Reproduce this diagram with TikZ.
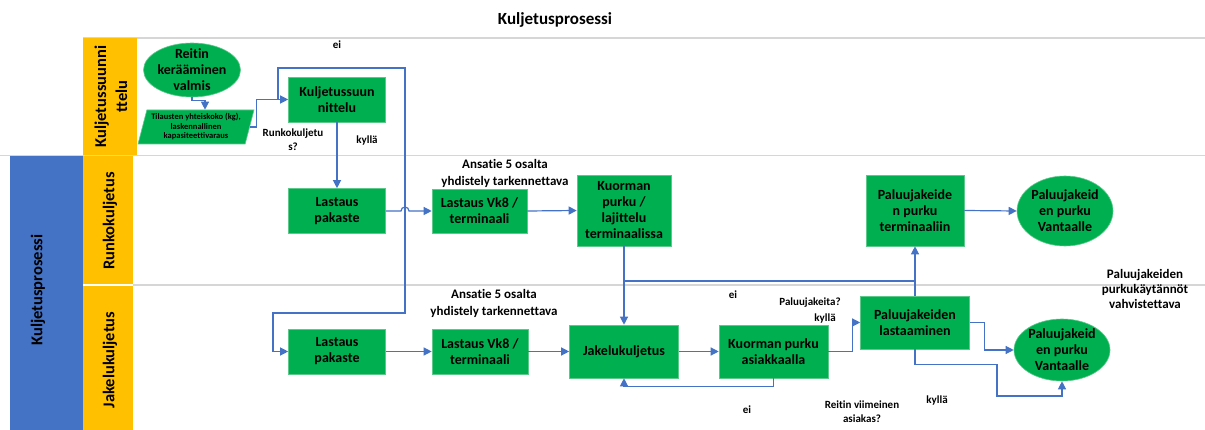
\documentclass[tikz,border=0pt]{standalone}
\usepackage{fontspec}
\setmainfont{Carlito}[Ligatures={NoCommon}]
\usetikzlibrary{arrows.meta,shapes.geometric}

\definecolor{procgreen}{HTML}{00B050}
\definecolor{procedge}{HTML}{5CC98A}
\definecolor{flowblue}{HTML}{4472C4}
\definecolor{headyellow}{HTML}{FFC000}
\definecolor{poolblue}{HTML}{4472C4}
\definecolor{laneline}{HTML}{D6D6D6}

\begin{document}
\begin{tikzpicture}[x=1pt,y=-1pt,
  proc/.style={draw=procedge, line width=0.6pt, fill=procgreen, align=center,
    inner sep=1pt, font=\fontsize{14}{16}\selectfont\bfseries},
  termshape/.style={ellipse, draw=procedge, line width=0.6pt, fill=procgreen, inner sep=0pt},
  datashape/.style={trapezium, trapezium left angle=74, trapezium right angle=106,
    trapezium stretches=true, draw=procedge, line width=0.6pt, fill=procgreen, inner sep=1pt,
    align=center, font=\fontsize{8.5}{9.5}\selectfont\bfseries},
  intext/.style={align=center, inner sep=0pt, font=\fontsize{14}{16}\selectfont\bfseries},
  lbl/.style={align=center, inner sep=0pt, font=\fontsize{11}{14}\selectfont\bfseries},
  note/.style={align=center, inner sep=0pt, font=\fontsize{13}{16.5}\selectfont\bfseries},
  lanelbl/.style={align=center, inner sep=0pt, rotate=90, font=\fontsize{16.5}{21}\selectfont\bfseries},
  wire/.style={draw=flowblue, line width=1.2pt},
  flow/.style={wire, -{Triangle[length=8pt,width=8pt]}},
  grid/.style={draw=laneline, line width=1.5pt}
]
\useasboundingbox (0,0) rectangle (1205,430);

% title
\node[font=\fontsize{17}{20}\selectfont\bfseries] (title) at (555,20) {Kuljetusprosessi};

% swimlane frame
\draw[grid] (83,38) -- (1205,38);
\draw[grid] (0,155.5) -- (1205,155.5);
\draw[grid] (133,285) -- (1205,285);
\fill[poolblue] (10,156.5) rectangle (83,430);
\fill[headyellow] (83,38.5) rectangle (137,155);
\fill[headyellow] (83,156.5) rectangle (133,284.3);
\fill[headyellow] (83,285.7) rectangle (133,430);

\node[lanelbl] (poolname) at (38,290) {Kuljetusprosessi};
\node[lanelbl] (lane1) at (111,96.5) {Kuljetussuunni\\ttelu};
\node[lanelbl] (lane2) at (110,221) {Runkokuljetus};
\node[lanelbl] (lane3) at (110,360) {Jakelukuljetus};

% planning lane
\node[termshape, minimum width=97pt, minimum height=54pt] (start) at (192,70) {};
\node[intext] (starttxt) at (start) {Reitin\\kerääminen\\valmis};
\node[datashape, minimum width=116pt, minimum height=34pt] (data) at (196,127)
  {Tilausten yhteiskoko (kg),\\laskennallinen\\kapasiteettivaraus};
\node[proc, minimum width=97pt, minimum height=45pt] (plan) at (337,99.5) {Kuljetussuun\\nittelu};

% trunk transport lane
\node[proc, minimum width=97pt, minimum height=45pt] (lpR) at (337,211) {Lastaus\\pakaste};
\node[proc, minimum width=95pt, minimum height=44pt] (lvR) at (479.5,211) {Lastaus Vk8 /\\terminaali};
\node[proc, minimum width=94pt, minimum height=71pt] (kpR) at (624,210.5) {Kuorman\\purku /\\lajittelu\\terminaalissa};
\node[proc, minimum width=98pt, minimum height=71pt] (ptR) at (915,210.5) {Paluujakeide\\n purku\\terminaaliin};
\node[termshape, minimum width=96pt, minimum height=70pt] (vR) at (1065,211) {};
\node[intext] (vRtxt) at (vR) {Paluujakeid\\en purku\\Vantaalle};

% distribution lane
\node[proc, minimum width=97pt, minimum height=45pt] (lpJ) at (337,351.5) {Lastaus\\pakaste};
\node[proc, minimum width=96pt, minimum height=45pt] (lvJ) at (480,351.5) {Lastaus Vk8 /\\terminaali};
\node[proc, minimum width=109pt, minimum height=53pt] (jk) at (624,351.5) {Jakelukuljetus};
\node[proc, minimum width=109pt, minimum height=53pt] (kaJ) at (773.5,351.5) {Kuorman purku\\asiakkaalla};
\node[proc, minimum width=109pt, minimum height=53pt] (plJ) at (915,322.5) {Paluujakeiden\\lastaaminen};
\node[termshape, minimum width=96pt, minimum height=62pt] (vJ) at (1062,350) {};
\node[intext] (vJtxt) at (vJ) {Paluujakeid\\en purku\\Vantaalle};

% labels
\node[lbl] (ei1) at (337,45) {ei};
\node[lbl] (q1) at (293,139.5) {Runkokuljetu\\s?};
\node[lbl] (yes1) at (367,141) {kyllä};
\node[note] (noteR) at (505,173.5) {Ansatie 5 osalta\\yhdistely tarkennettava};
\node[note] (noteJ) at (494,303.5) {Ansatie 5 osalta\\yhdistely tarkennettava};
\node[lbl] (ei2) at (733,295) {ei};
\node[lbl] (q2) at (810,303) {Paluujakeita?};
\node[lbl] (yes2) at (825,319) {kyllä};
\node[lbl] (ei3) at (747,410) {ei};
\node[lbl] (q3) at (862,412) {Reitin viimeinen\\asiakas?};
\node[lbl] (yes3) at (937,401) {kyllä};
\node[note, font=\fontsize{13}{14.7}\selectfont\bfseries] (noteV) at (1145,289) {Paluujakeiden\\purkukäytännöt\\vahvistettava};

% connectors
\coordinate (j1) at (278,99.5);
\coordinate (eiR) at (405,68);
\coordinate (eiL) at (273,313);
\coordinate (mid) at (624,281);
\coordinate (lowR) at (997,396);

\draw[flow] (start.south) -- ++(0,3) -| ([xshift=9pt]data.north);
\draw[flow] (data.east) -- ++(6.5,0) |- (plan.west);
\draw[flow] (j1) |- (eiR) |- (eiL) |- (lpJ.west);
\draw[flow] (plan.south) -- (lpR.north);
\draw[flow] (lpR.east) -- (401,211) arc[start angle=180,end angle=0,radius=4pt] -- (lvR.west);
\draw[flow] (lvR.east) -- (kpR.west);
\draw[flow] (kpR.south) -- (jk.north);
\draw[wire] (mid) -- (mid -| ptR.south);
\draw[flow] (plJ.north) -- (ptR.south);
\draw[flow] (ptR.east) -- (vR.west);
\draw[flow] (lpJ.east) -- (lvJ.west);
\draw[flow] (lvJ.east) -- (jk.west);
\draw[flow] (jk.east) -- (kaJ.west);
\draw[flow] (kaJ.south) -- ++(0,8) -| (jk.south);
\draw[flow] (kaJ.east) -- ++(24,0) |- (plJ.west);
\draw[flow] (plJ.east) -- ++(15,0) |- (vJ.west);
\draw[flow] (plJ.south) -- ++(0,15) -| (lowR) -| (vJ.south);
\end{tikzpicture}
\end{document}
